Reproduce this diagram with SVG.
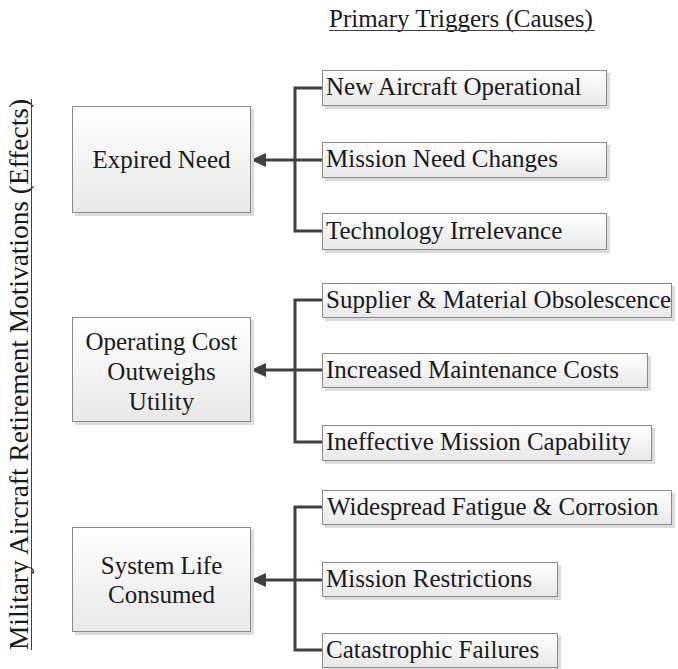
<svg xmlns="http://www.w3.org/2000/svg" width="678" height="669" viewBox="0 0 678 669">
<defs>
<linearGradient id="g" x1="0" y1="0" x2="0" y2="1">
<stop offset="0" stop-color="#ffffff"/>
<stop offset="1" stop-color="#e8e8e8"/>
</linearGradient>
<marker id="arr" markerWidth="15" markerHeight="14" refX="14" refY="7" orient="auto" markerUnits="userSpaceOnUse">
<path d="M0,0 L15,7 L0,14 Z" fill="#404040"/>
</marker>
</defs>
<style>
.box{fill:url(#g);stroke:#8a8a8a;stroke-width:1}
.sh{fill:#dcdcdc}
.t{font-family:"Liberation Serif","Times New Roman",serif;font-size:25px;fill:#1a1a1a}
.c{stroke:#404040;stroke-width:3;fill:none}
</style>
<rect width="678" height="669" fill="#ffffff"/>
<g id="title-top">
<text class="t" x="329" y="27">Primary Triggers (Causes)</text>
<line x1="329" y1="30.5" x2="595" y2="30.5" stroke="#404040" stroke-width="1"/>
</g>
<g id="title-left">
<text class="t" transform="translate(28,650) rotate(-90)" x="0" y="0" style="font-size:27px" textLength="551" lengthAdjust="spacingAndGlyphs">Military Aircraft Retirement Motivations (Effects)</text>
<line x1="31.5" y1="99" x2="31.5" y2="650" stroke="#404040" stroke-width="1"/>
</g>
<g id="connectors">
<path class="c" d="M322,88 H295 V231 H322 M322,160 H295"/>
<path class="c" d="M295,160 H252" marker-end="url(#arr)"/>
<path class="c" d="M322,300 H295 V442 H322 M322,370 H295"/>
<path class="c" d="M295,370 H252" marker-end="url(#arr)"/>
<path class="c" d="M322,507 H295 V650 H322 M322,580 H295"/>
<path class="c" d="M295,580 H252" marker-end="url(#arr)"/>
</g>
<g id="expired-need">
<rect class="sh" x="75" y="109" width="179" height="107"/>
<rect class="box" x="72.5" y="106.5" width="178" height="106"/>
<text class="t" x="161.5" y="168" text-anchor="middle">Expired Need</text>
</g>
<g id="operating-cost">
<rect class="sh" x="75" y="320" width="179" height="105"/>
<rect class="box" x="72.5" y="317.5" width="178" height="104"/>
<text class="t" x="161.5" y="350" text-anchor="middle">Operating Cost</text>
<text class="t" x="161.5" y="380" text-anchor="middle">Outweighs</text>
<text class="t" x="161.5" y="410" text-anchor="middle">Utility</text>
</g>
<g id="system-life">
<rect class="sh" x="75" y="530" width="179" height="105"/>
<rect class="box" x="72.5" y="527.5" width="178" height="104"/>
<text class="t" x="161.5" y="574" text-anchor="middle">System Life</text>
<text class="t" x="161.5" y="603" text-anchor="middle">Consumed</text>
</g>
<g id="new-aircraft">
<rect class="sh" x="325" y="73" width="285" height="36"/>
<rect class="box" x="322.5" y="70.5" width="284" height="35"/>
<text class="t" x="326" y="95">New Aircraft Operational</text>
</g>
<g id="mission-need">
<rect class="sh" x="325" y="145" width="285" height="36"/>
<rect class="box" x="322.5" y="142.5" width="284" height="35"/>
<text class="t" x="326" y="167">Mission Need Changes</text>
</g>
<g id="technology">
<rect class="sh" x="325" y="216" width="285" height="37"/>
<rect class="box" x="322.5" y="213.5" width="284" height="36"/>
<text class="t" x="326" y="239">Technology Irrelevance</text>
</g>
<g id="supplier">
<rect class="sh" x="325" y="286" width="350" height="35"/>
<rect class="box" x="322.5" y="283.5" width="349" height="34"/>
<text class="t" x="326" y="308">Supplier &amp; Material Obsolescence</text>
</g>
<g id="maintenance">
<rect class="sh" x="325" y="356" width="326" height="35"/>
<rect class="box" x="322.5" y="353.5" width="325" height="34"/>
<text class="t" x="326" y="378">Increased Maintenance Costs</text>
</g>
<g id="ineffective">
<rect class="sh" x="325" y="428" width="330" height="36"/>
<rect class="box" x="322.5" y="425.5" width="329" height="35"/>
<text class="t" x="326" y="450">Ineffective Mission Capability</text>
</g>
<g id="fatigue">
<rect class="sh" x="325" y="493" width="350" height="35"/>
<rect class="box" x="322.5" y="490.5" width="349" height="34"/>
<text class="t" x="327" y="515">Widespread Fatigue &amp; Corrosion</text>
</g>
<g id="restrictions">
<rect class="sh" x="325" y="565" width="236" height="35"/>
<rect class="box" x="322.5" y="562.5" width="235" height="34"/>
<text class="t" x="326" y="587">Mission Restrictions</text>
</g>
<g id="catastrophic">
<rect class="sh" x="325" y="636" width="236" height="33"/>
<rect class="box" x="322.5" y="633.5" width="235" height="34"/>
<text class="t" x="326" y="658">Catastrophic Failures</text>
</g>
</svg>
